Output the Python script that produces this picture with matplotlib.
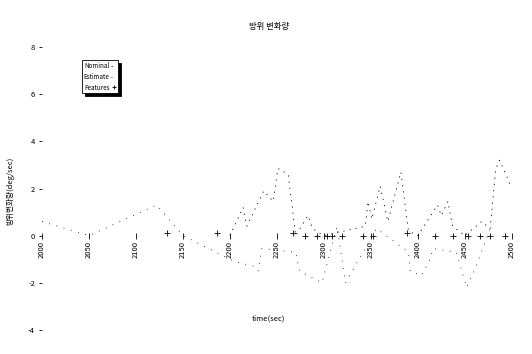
import matplotlib
matplotlib.use('Agg')
import matplotlib.pyplot as plt

plt.rcParams['font.family'] = ['Noto Sans CJK KR', 'DejaVu Sans']

# 기준 방위 변화량 (deg/sec)
t_nominal = [2200, 2214, 2218, 2236, 2246, 2251, 2262, 2270, 2283, 2288, 2300,
             2344, 2347, 2351, 2360, 2368, 2382, 2386, 2390, 2400,
             2421, 2425, 2432, 2437, 2450, 2468, 2477, 2483, 2487, 2498]
v_nominal = [0.0, 1.2, 0.4, 1.9, 1.45, 2.85, 2.6, 0.0, 0.85, 0.3, 0.0,
             0.4, 1.45, 0.7, 2.1, 0.6, 2.7, 1.45, 0.2, 0.0,
             1.3, 0.85, 1.45, 0.4, 0.0, 0.6, 0.3, 2.85, 3.2, 2.2]

# 추정 방위 변화량
t_estimate = [2000, 2050, 2122, 2150, 2205, 2226, 2230, 2234, 2270, 2274, 2298,
              2314, 2323, 2356, 2390, 2392, 2404, 2413, 2416, 2441, 2452,
              2461, 2477]
v_estimate = [0.6, 0.0, 1.3, 0.0, -1.1, -1.3, -1.5, -0.55, -0.7, -1.5, -2.0,
              0.4, -2.0, 0.3, -0.7, -1.5, -1.7, -1.0, -0.55, -0.7, -2.2,
              -1.4, 0.3]

# 특징점
t_features = [2133, 2186, 2267, 2280, 2293, 2303, 2309, 2319, 2342, 2352,
              2389, 2418, 2437, 2453, 2466, 2477, 2493]
v_features = [0.1, 0.1, 0.1, 0.0, 0.0, 0.0, 0.0, 0.0, 0.0, 0.0,
              0.1, 0.0, 0.0, 0.0, 0.0, 0.0, 0.0]

x_ticks = [2000, 2050, 2100, 2150, 2200, 2250, 2300, 2350, 2400, 2450, 2500]
y_ticks = [-4, -2, 0, 2, 4, 6, 8]

fig = plt.figure(figsize=(5.32, 3.54), dpi=100)
ax = fig.add_axes([0.079, 0.068, 0.883, 0.799])

# x축은 y=0 위치, 축선은 보이지 않게 (눈금 설정 전에 해야 함)
ax.spines['bottom'].set_position(('data', 0))
for side in ['bottom', 'left', 'top', 'right']:
    ax.spines[side].set_color('none')

ax.plot(t_nominal, v_nominal, color='black', linewidth=0.6,
        linestyle=(0, (1.5, 6)), label='Nominal')
ax.plot(t_estimate, v_estimate, color='black', linewidth=0.6,
        linestyle=(0, (1, 8)), label='Estimate')
ax.plot(t_features, v_features, color='black', linestyle='none',
        marker='+', markersize=4, markeredgewidth=0.6, label='Features')

ax.set_xlim(2000, 2500)
ax.set_ylim(-4, 8)
ax.set_xticks(x_ticks)
ax.set_yticks(y_ticks)
ax.set_xticklabels([str(v) for v in x_ticks], rotation=90, fontsize=5.5)
ax.set_yticklabels([str(v) for v in y_ticks], fontsize=5.5)
ax.tick_params(axis='x', direction='inout', length=4, width=0.6, pad=2)
ax.tick_params(axis='y', direction='out', length=2, width=0.6, pad=3)

leg = ax.legend(loc='upper left', bbox_to_anchor=(0.078, 0.965),
                fontsize=4.5, frameon=True, fancybox=False,
                shadow={'color': 'black', 'alpha': 1.0},
                handlelength=0.8, handletextpad=0.3, borderpad=0.3,
                labelspacing=0.45, markerfirst=False, markerscale=0.6)
leg.get_frame().set_edgecolor('black')
leg.get_frame().set_linewidth(0.6)

fig.text(0.505, 0.925, '방위 변화량', ha='center', va='center', fontsize=6)
fig.text(0.505, 0.1, 'time(sec)', ha='center', va='center', fontsize=5.5)
fig.text(0.02, 0.46, '방위변화량(deg/sec)', ha='center', va='center',
         rotation=90, fontsize=5.5)

fig.savefig('out.png', dpi=100, facecolor='white')
